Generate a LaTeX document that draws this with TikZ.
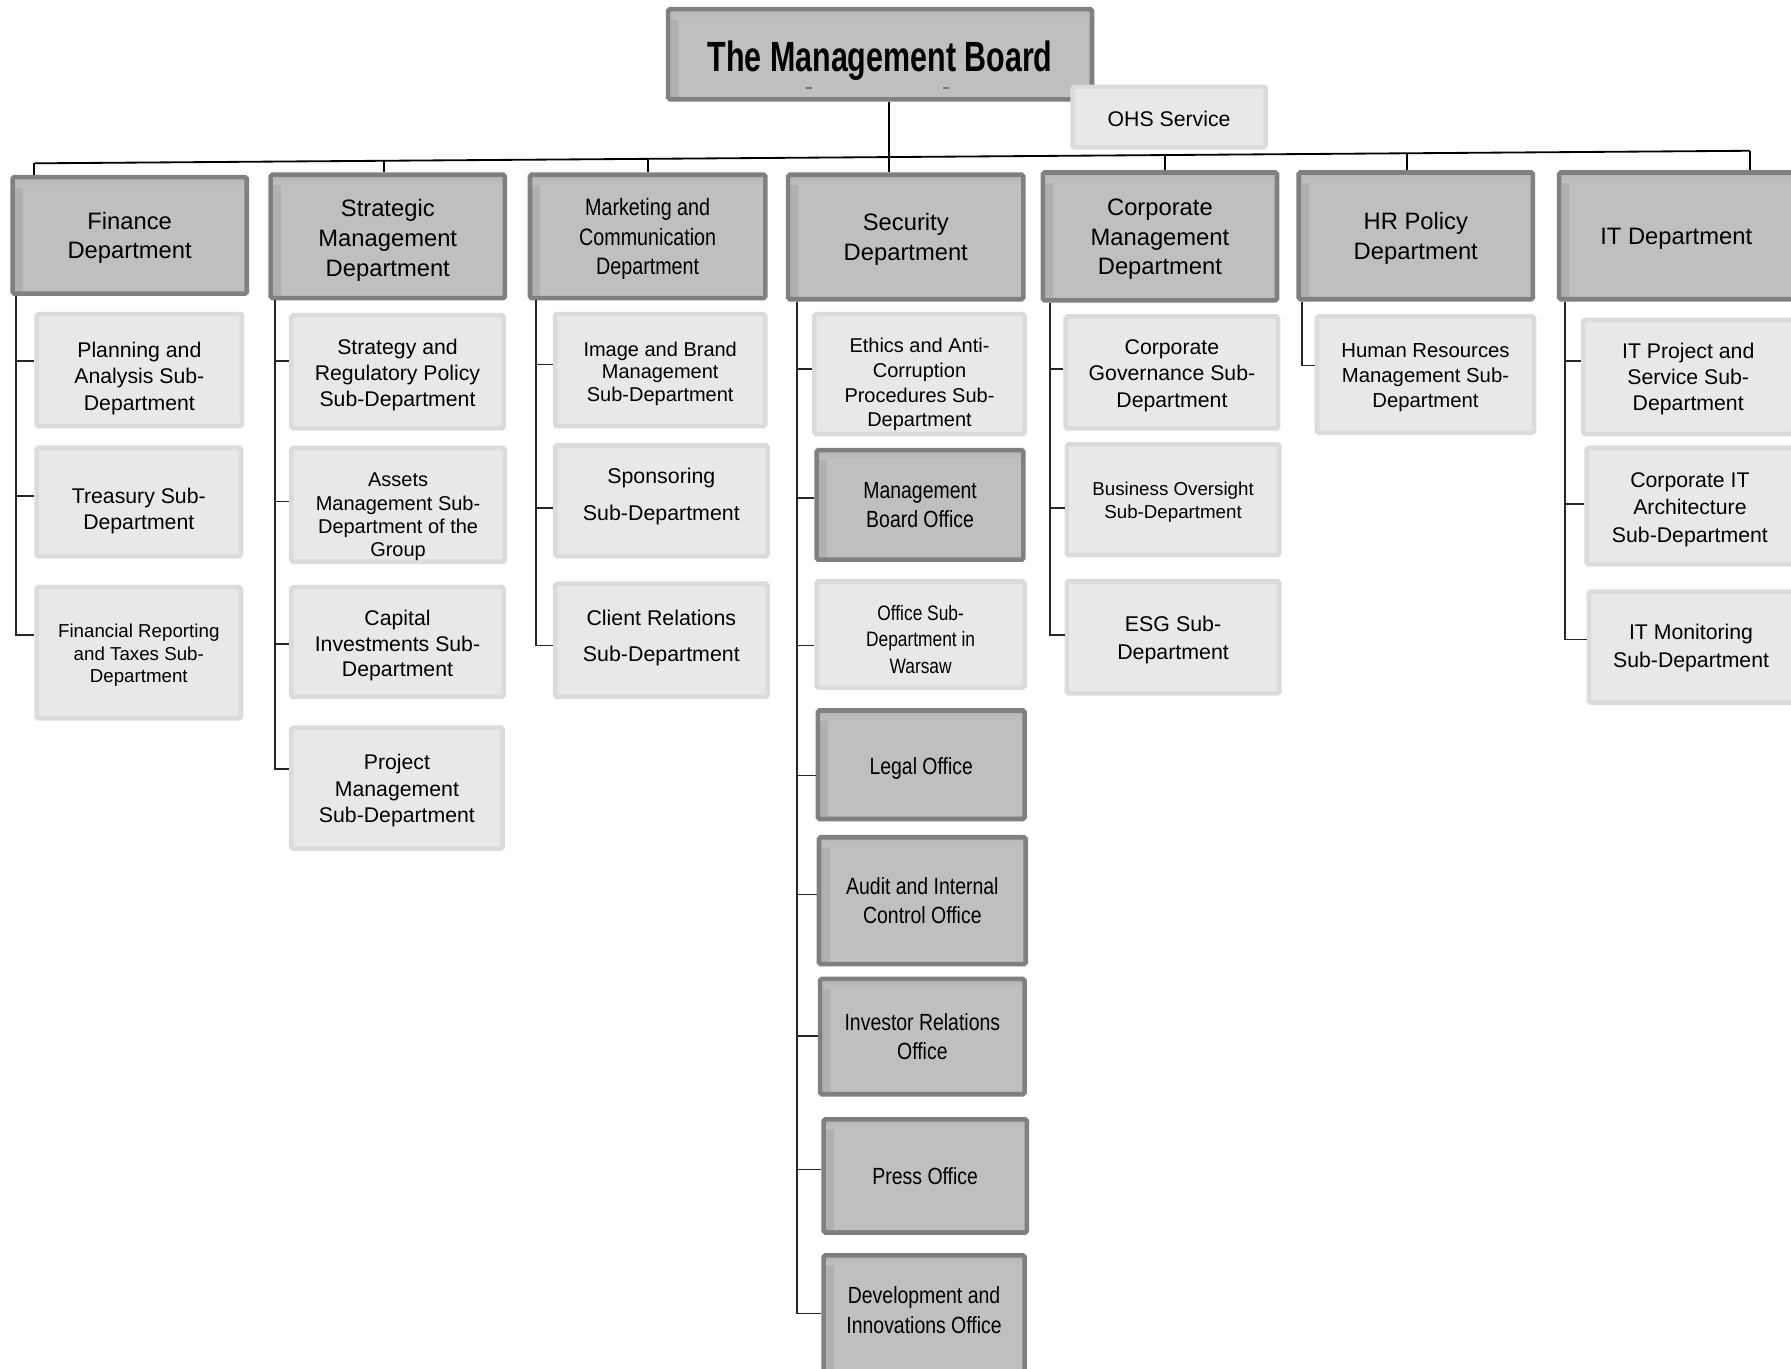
\documentclass[tikz,border=0pt]{standalone}
\usepackage{fontspec}
\setmainfont{Liberation Sans}
\newfontfamily\narrowfont[FakeStretch=0.83]{Liberation Sans}
\newfontfamily\titlefont[FakeStretch=0.72]{Liberation Sans}
\usetikzlibrary{positioning,calc}
\newcommand\txtdn[1]{\rule{0pt}{\dimexpr0.75em+#1pt\relax}}
\tikzset{
  sz/.style 2 args={minimum width=#1pt-4pt, minimum height=#2pt-4pt},
  dn/.style={execute at begin node={\txtdn{#1}}},
  up/.style={execute at end node={\rule[-\dimexpr0.22em+#1pt\relax]{0pt}{0pt}}},
  shadowed/.style={path picture={
    \shade[left color=black!31, right color=black!25] (path picture bounding box.south west) rectangle ([xshift=9pt]path picture bounding box.north west);
    \shade[top color=black!29, bottom color=black!25] (path picture bounding box.north west) rectangle ([yshift=-9pt]path picture bounding box.north east);}}
}

\begin{document}
\begin{tikzpicture}[
  x=1pt, y=-1pt,
  dept/.style={draw=black!50, line width=4pt, fill=black!25, rounded corners=1.5pt, shadowed, align=center, inner sep=1pt, font=\fontsize{20.8}{26}\selectfont},
  unit/.style={draw=black!14, line width=4pt, fill=black!9, rounded corners=1.5pt, align=center, inner sep=1pt, font=\fontsize{18.6}{23}\selectfont},
  office/.style={dept, font=\narrowfont\fontsize{20.5}{26}\selectfont},
  bus/.style={line width=1.6pt, black},
  link/.style={line width=1.4pt, black!85}
]
\useasboundingbox (0,0) rectangle (1568,1198);

% management board
\node[dept, sz={375}{83}, dn=10, font=\titlefont\bfseries\fontsize{37}{40}\selectfont] (board) at (770.5,47.5) {The Management Board};
\draw[black!55, line width=1pt] ([xshift=-65pt, yshift=-29.5pt]board.center) -- ++(5,0);
\draw[black!55, line width=1pt] ([xshift=55pt, yshift=-29.5pt]board.center) -- ++(5,0);
\node[unit, sz={173}{57}, dn=2] (ohs) at (1023.5,102.5) {OHS Service};

% departments
\node[dept, sz={209}{106}] (fin) at (113.5,206) {\txtdn{4}Finance\\Department};
\node[dept, sz={209}{112}] (strat) at (339.5,207) {\txtdn{6}Strategic\\Management\\Department};
\node[dept, sz={210}{112}, font=\narrowfont\fontsize{20.8}{26}\selectfont] (mark) at (567,207) {\txtdn{4}Marketing and\\Communication\\Department};
\node[dept, sz={210}{113}] (sec) at (793,207.5) {\txtdn{4}Security\\Department};
\node[dept, sz={209}{116}] (corp) at (1015.5,207) {\txtdn{4}Corporate\\Management\\Department};
\node[dept, sz={209}{115}] (hr) at (1239.5,206.5) {\txtdn{4}HR Policy\\Department};
\node[dept, sz={209}{115}, dn=4] (it) at (1467.5,206.5) {IT Department};

% finance
\node[unit, sz={184}{102}] (plan) at (122,324) {\txtdn{14}Planning and\\Analysis Sub-\\Department};
\node[unit, sz={183}{99}] (treas) at (121.5,439.5) {\txtdn{15}Treasury Sub-\\Department};
\node[unit, sz={183}{119}, font=\fontsize{16.4}{20}\selectfont] (finrep) at (121.5,571.5) {\txtdn{4}Financial Reporting\\and Taxes Sub-\\Department};

% strategic management
\node[unit, sz={190}{103}] (stratpol) at (348,325.5) {\txtdn{5}Strategy and\\Regulatory Policy\\Sub-Department};
\node[unit, sz={191}{100}, font=\fontsize{17.5}{20.3}\selectfont] (assets) at (348.5,442) {\txtdn{20}Assets\\Management Sub-\\Department of the\\Group};
\node[unit, sz={190}{100}, font=\fontsize{18.6}{22}\selectfont] (capinv) at (348,562) {\txtdn{6}Capital\\Investments Sub-\\Department};
\node[unit, sz={189}{110}] (projm) at (347.5,690) {\txtdn{4}Project\\Management\\Sub-Department};

% marketing
\node[unit, sz={188}{102}, font=\fontsize{17.5}{20}\selectfont] (image) at (578,324) {\txtdn{6}Image and Brand\\Management\\Sub-Department};
\node[unit, sz={190}{101}, up=7, font=\fontsize{18.7}{32}\selectfont] (spons) at (579,438.5) {Sponsoring\\Sub-Department};
\node[unit, sz={190}{103}, up=4, font=\fontsize{18.7}{32}\selectfont] (client) at (579,560.5) {Client Relations\\Sub-Department};

% security
\node[unit, sz={188}{109}, font=\fontsize{17.5}{21.7}\selectfont] (ethics) at (805,327.5) {\txtdn{18}Ethics and Anti-\\Corruption\\Procedures Sub-\\Department};
\node[office, sz={185}{100}, font=\narrowfont\fontsize{20.5}{25}\selectfont] (mbo) at (805.5,442) {Management\\Board Office};
\node[unit, sz={186}{97}, font=\narrowfont\fontsize{18.3}{23}\selectfont] (warsaw) at (806,555.5) {\txtdn{8}Office Sub-\\Department in\\Warsaw};
\node[office, sz={185}{99}, dn=6] (legal) at (806.5,669.5) {Legal Office};
\node[office, sz={185}{115}] (audit) at (807.5,788.5) {Audit and Internal\\Control Office};
\node[office, sz={183}{105}] (investor) at (807.5,907.5) {Investor Relations\\Office};
\node[office, sz={182}{103}] (press) at (810,1029.5) {Press Office};
\node[office, sz={180}{108}, up=4] (devel) at (809,1151) {Development and\\Innovations Office};

% corporate management
\node[unit, sz={190}{102}] (corpgov) at (1026,326) {\txtdn{5}Corporate\\Governance Sub-\\Department};
\node[unit, sz={190}{101}, font=\fontsize{16.4}{20}\selectfont] (busov) at (1027,437.5) {\txtdn{4}Business Oversight\\Sub-Department};
\node[unit, sz={190}{102}, font=\fontsize{18.7}{24}\selectfont] (esg) at (1027,558) {\txtdn{4}ESG Sub-\\Department};

% hr and it
\node[unit, sz={194}{106}, font=\fontsize{17.8}{22}\selectfont] (hrm) at (1248,328) {\txtdn{4}Human Resources\\Management Sub-\\Department};
\node[unit, sz={188}{104}] (itproj) at (1478,330) {\txtdn{3}IT Project and\\Service Sub-\\Department};
\node[unit, sz={185}{106}, font=\fontsize{18.6}{24}\selectfont] (itarch) at (1479.5,443) {\txtdn{5}Corporate IT\\Architecture\\Sub-Department};
\node[unit, sz={183}{101}, font=\fontsize{18.6}{24}\selectfont] (itmon) at (1480.5,566.5) {\txtdn{1}IT Monitoring\\Sub-Department};

% top bus
\coordinate (busL) at (30,143);
\coordinate (busR) at (1532,132);
\draw[bus] (busL) -- (busR);
\foreach \t/\n in {0/fin, 0.2037/strat, 0.3575/mark, 0.6591/corp, 0.8003/hr, 1/it} {
  \path ($(busL)!\t!(busR)$) coordinate (drop);
  \draw[bus] (drop) -- (drop |- \n.north);
}
\path ($(busL)!0.498!(busR)$) coordinate (stem);
\draw[bus] (stem |- board.south) -- (stem |- sec.north);

% sub-department links
\foreach \p/\dx/\kids in {
  fin/5/{plan/8,treas/5.5,finrep/15.5},
  strat/6/{stratpol/9.5,assets/3,capinv/-2,projm/17},
  mark/7/{image/5,spons/-6.5,client/-4.5},
  sec/10/{ethics/4.5,mbo/6,warsaw/-9.5,legal/-9.5,audit/5.5,investor/0.5,press/5.5,devel/1},
  corp/8/{corpgov/3,busov/-7.5,esg/2},
  hr/5/{hrm/8},
  it/7/{itproj/14,itarch/2,itmon/6.5}} {
  \foreach \c/\s in \kids {
    \draw[link] ([xshift=\dx pt]\p.south west) |- ([yshift=\s pt]\c.west);
  }
}
\end{tikzpicture}
\end{document}
